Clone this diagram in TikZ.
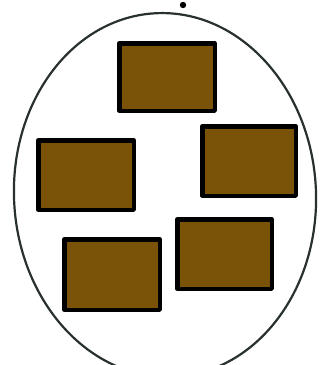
\documentclass[tikz,border=0pt]{standalone}
\usetikzlibrary{shapes.geometric}
\definecolor{boxbrown}{RGB}{122,82,8}
\definecolor{rim}{RGB}{40,48,48}
\tikzset{
  brick/.style={draw=black, line width=4.5pt, fill=boxbrown, line join=round, inner sep=0pt},
  rimline/.style={draw=rim, line width=2.2pt, inner sep=0pt}
}
\begin{document}
\begin{tikzpicture}[x=1pt,y=-1pt]
\useasboundingbox (0,0) rectangle (326,365);
\node[rimline, ellipse, rotate=3, minimum width=302pt, minimum height=364pt] (dish) at (165,195) {};
\fill (183,5) circle (3.2pt) coordinate (dot);
\node[brick, minimum width=95.5pt, minimum height=67.5pt] (b1) at (167,77) {};
\node[brick, minimum width=95.5pt, minimum height=69.5pt] (b2) at (86,175) {};
\node[brick, minimum width=93.5pt, minimum height=69.5pt] (b3) at (249,161) {};
\node[brick, minimum width=95.5pt, minimum height=70.5pt] (b4) at (112,274.5) {};
\node[brick, minimum width=94.5pt, minimum height=69.5pt] (b5) at (224.5,254) {};
\end{tikzpicture}
\end{document}
